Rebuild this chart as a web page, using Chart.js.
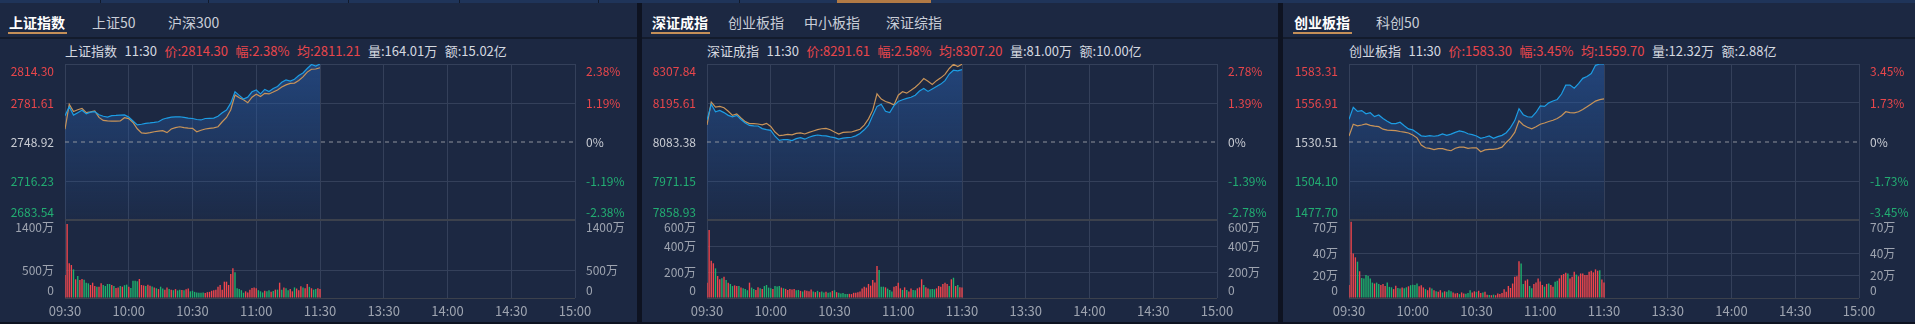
<!DOCTYPE html>
<html lang="zh-CN">
<head>
<meta charset="utf-8">
<title>分时走势</title>
<script src="https://cdn.jsdelivr.net/npm/chart.js@4.4.1/dist/chart.umd.min.js"></script>
<style>
  html, body { margin: 0; padding: 0; }
  body { width: 1915px; height: 324px; background: #0e1321; position: relative; overflow: hidden;
         font-family: "Noto Sans CJK SC", "Noto Sans", sans-serif; }
  #topbar { position: absolute; left: 0; top: 0; width: 1915px; height: 3px; background: #1f3459; }
  #topbar .cut { position: absolute; top: 0; width: 1px; height: 3px; background: #111a2c; }
  #topbar .on { position: absolute; top: 0; height: 3px; background: #b27a45; }
  .panel { position: absolute; top: 3px; height: 319px; background: #1c2842; }
  .tab { position: absolute; top: 9px; font-size: 14px; line-height: 20px; color: #c9ced8; white-space: nowrap; }
  .tab.active { color: #ffffff; font-weight: bold; }
  .tabline { position: absolute; top: 29px; height: 2px; background: #c48f58; }
  .tabsep { position: absolute; left: 0; right: 0; top: 34px; height: 2px; background: #131b2c; }
  .head { position: absolute; top: 38px; font-size: 13px; line-height: 20px; white-space: nowrap; color: #d5d9e0; }
  .head span { margin-right: 7.5px; }
  .head .r { color: #e8464b; }
  canvas { position: absolute; left: 0; }
</style>
</head>
<body>
<div id="topbar"></div>
<script>
// ---- data ----
const axisMinutes = [0, 30, 60, 90, 120, 150, 180, 210, 240];
const timeLabels = ['09:30', '10:00', '10:30', '11:00', '11:30', '13:30', '14:00', '14:30', '15:00'];

// price samples, minutes after 09:30
const priceMinutes = [0, 2, 4, 6, 8, 10, 12, 14, 16, 18, 20, 22, 24, 26, 28, 30, 32, 34, 36, 38,
  40, 42, 44, 46, 48, 50, 52, 54, 56, 58, 60, 62, 64, 66, 68, 70, 72, 74, 76, 78,
  80, 82, 84, 86, 88, 90, 92, 94, 96, 98, 100, 102, 104, 106, 108, 110, 112, 114, 116, 118, 120];
const volMinutes = [0, 1, 2, 3, 4, 5, 6, 7, 8, 9, 10, 11, 12, 13, 14, 15, 16, 17, 18, 19,
  20, 21, 22, 23, 24, 25, 26, 27, 28, 29, 30, 31, 32, 33, 34, 35, 36, 37, 38, 39,
  40, 41, 42, 43, 44, 45, 46, 47, 48, 49, 50, 51, 52, 53, 54, 55, 56, 57, 58, 59,
  60, 61, 62, 63, 64, 65, 66, 67, 68, 69, 70, 71, 72, 73, 74, 75, 76, 77, 78, 79,
  80, 81, 82, 83, 84, 85, 86, 87, 88, 89, 90, 91, 92, 93, 94, 95, 96, 97, 98, 99,
  100, 101, 102, 103, 104, 105, 106, 107, 108, 109, 110, 111, 112, 113, 114, 115, 116, 117, 118, 119, 120];

const tabNames = [['上证指数', '上证50', '沪深300'], ['深证成指', '创业板指', '中小板指', '深证综指'], ['创业板指', '科创50']];
const headNames = ['上证指数', '深证成指', '创业板指'];
const headTime = '11:30';
const headPrice = ['2814.30', '8291.61', '1583.30'];
const headChg = ['2.38%', '2.58%', '3.45%'];
const headAvg = ['2811.21', '8307.20', '1559.70'];
const headVol = ['164.01万', '81.00万', '12.32万'];
const headAmt = ['15.02亿', '10.00亿', '2.88亿'];

// 上证指数
const shPriceTicks = [2683.54, 2716.23, 2748.92, 2781.61, 2814.30];
const shPctTicks = ['-2.38%', '-1.19%', '0%', '1.19%', '2.38%'];
const shVolTicks = [0, 500, 1400];
const shPrice = [
  2771.0, 2778.5, 2771.5, 2773.5, 2775.5, 2772.5, 2774.0, 2774.3, 2771.8, 2770.5,
  2769.8, 2771.0, 2771.2, 2771.5, 2771.6, 2769.8, 2766.5, 2763.2, 2763.8, 2764.6,
  2764.9, 2765.3, 2765.9, 2768.0, 2769.0, 2769.8, 2770.0, 2770.1, 2769.6, 2769.0,
  2768.6, 2767.8, 2767.4, 2768.6, 2768.8, 2768.9, 2770.5, 2773.5, 2775.7, 2781.5,
  2791.0, 2788.0, 2785.0, 2786.5, 2791.0, 2792.5, 2789.3, 2793.0, 2791.3, 2793.8,
  2795.5, 2799.0, 2800.9, 2800.0, 2801.5, 2804.6, 2806.8, 2810.5, 2813.9, 2812.6,
  2814.3];
const shAvg = [
  2759.6, 2780.5, 2774.5, 2776.0, 2777.0, 2773.5, 2774.2, 2775.0, 2769.5, 2767.0,
  2766.6, 2766.5, 2766.4, 2766.5, 2769.3, 2768.5, 2765.3, 2760.0, 2756.5, 2756.2,
  2756.8, 2757.5, 2758.0, 2758.4, 2756.8, 2759.8, 2761.0, 2761.7, 2761.0, 2760.5,
  2760.4, 2757.5, 2758.8, 2759.8, 2760.4, 2760.8, 2761.7, 2765.9, 2769.5, 2776.0,
  2788.3, 2786.0, 2784.3, 2781.8, 2786.5, 2788.9, 2787.0, 2789.7, 2789.2, 2790.8,
  2792.5, 2795.0, 2796.8, 2798.1, 2798.3, 2800.5, 2803.5, 2807.5, 2809.9, 2810.1,
  2811.2];
const shVol = [
  413, 1328, 622, 592, 514, 335, 395, 323, 341, 329,
  275, 263, 233, 275, 215, 203, 203, 263, 233, 215,
  251, 251, 233, 215, 180, 190, 215, 203, 230, 240,
  200, 180, 311, 311, 300, 341, 233, 225, 215, 240,
  220, 205, 190, 175, 160, 203, 170, 150, 190, 160,
  150, 140, 160, 135, 150, 145, 140, 155, 170, 120,
  130, 110, 100, 95, 95, 100, 90, 105, 110, 130,
  140, 150, 200, 233, 150, 293, 293, 233, 430, 532,
  460, 173, 160, 140, 95, 120, 100, 150, 180, 190,
  173, 140, 120, 100, 130, 120, 140, 110, 125, 150,
  150, 275, 150, 190, 175, 140, 160, 120, 190, 170,
  140, 210, 190, 175, 251, 200, 175, 150, 160, 175, 160];
const shUp = [
  1, 1, 1, 1, 0, 1, 0, 1, 1, 0,
  0, 0, 1, 1, 1, 0, 1, 1, 0, 0,
  0, 0, 1, 0, 1, 1, 0, 1, 0, 0,
  1, 0, 0, 0, 0, 1, 1, 1, 0, 1,
  1, 0, 1, 0, 1, 0, 0, 1, 1, 0,
  1, 0, 1, 0, 0, 1, 0, 1, 1, 0,
  0, 0, 0, 0, 0, 0, 1, 1, 1, 1,
  1, 1, 1, 1, 1, 1, 1, 1, 1, 1,
  0, 0, 0, 0, 0, 1, 1, 1, 1, 1,
  1, 0, 0, 0, 1, 0, 0, 1, 0, 1,
  0, 1, 0, 1, 0, 0, 1, 1, 0, 1,
  1, 1, 0, 1, 1, 0, 1, 0, 0, 1, 1];

// 深证成指
const szPriceTicks = [7858.93, 7971.15, 8083.38, 8195.61, 8307.84];
const szPctTicks = ['-2.78%', '-1.39%', '0%', '1.39%', '2.78%'];
const szVolTicks = [0, 200, 400, 600];
const szPrice = [
  8146.7, 8192.0, 8170.0, 8174.0, 8168.0, 8160.0, 8156.0, 8160.0, 8148.0, 8138.0,
  8131.0, 8130.0, 8129.4, 8122.0, 8119.0, 8117.0, 8100.0, 8088.0, 8090.5, 8090.0,
  8087.5, 8093.0, 8096.0, 8091.5, 8097.0, 8101.0, 8103.5, 8102.0, 8100.8, 8098.0,
  8096.0, 8091.5, 8094.5, 8096.0, 8097.0, 8101.0, 8108.0, 8118.5, 8132.0, 8160.0,
  8186.0, 8192.0, 8172.0, 8168.0, 8188.0, 8200.0, 8205.0, 8209.0, 8212.0, 8218.0,
  8230.0, 8237.5, 8229.0, 8236.0, 8243.0, 8250.0, 8260.0, 8279.0, 8290.0, 8288.0,
  8291.6];
const szAvg = [
  8132.3, 8198.0, 8184.0, 8186.0, 8182.0, 8172.0, 8160.0, 8164.0, 8152.5, 8142.0,
  8136.5, 8136.0, 8135.2, 8133.0, 8137.0, 8128.0, 8112.0, 8101.5, 8103.0, 8105.5,
  8103.8, 8108.0, 8109.5, 8106.5, 8111.0, 8115.0, 8119.0, 8121.5, 8122.5, 8118.5,
  8112.0, 8106.4, 8111.0, 8111.8, 8112.1, 8116.0, 8120.0, 8132.0, 8150.0, 8175.0,
  8222.0, 8207.0, 8200.0, 8196.0, 8190.0, 8218.0, 8228.0, 8224.0, 8232.0, 8241.0,
  8252.0, 8266.0, 8258.0, 8249.0, 8260.0, 8268.0, 8278.0, 8295.0, 8307.0, 8300.5,
  8307.2];
const szVol = [
  118, 523, 287, 267, 228, 169, 144, 151, 164, 138,
  118, 108, 92, 97, 92, 92, 80, 75, 70, 60,
  118, 80, 70, 62, 82, 75, 70, 92, 100, 80,
  75, 70, 92, 88, 92, 80, 75, 70, 62, 70,
  65, 70, 60, 62, 55, 50, 60, 55, 52, 65,
  50, 45, 55, 45, 50, 42, 48, 40, 45, 55,
  60, 45, 40, 35, 38, 30, 30, 32, 30, 40,
  40, 45, 50, 74, 87, 80, 108, 95, 138, 120,
  246, 215, 87, 87, 82, 72, 62, 50, 87, 92,
  118, 74, 62, 82, 62, 50, 74, 62, 60, 74,
  82, 144, 100, 82, 74, 67, 70, 67, 74, 92,
  87, 108, 118, 108, 92, 144, 156, 92, 100, 82, 80];
const szUp = [
  1, 1, 1, 1, 0, 1, 1, 0, 1, 0,
  1, 0, 0, 1, 1, 0, 1, 0, 0, 0,
  1, 0, 0, 1, 1, 0, 1, 0, 0, 0,
  0, 1, 0, 0, 0, 1, 0, 1, 1, 1,
  1, 1, 0, 0, 1, 0, 1, 1, 1, 1,
  0, 1, 0, 1, 0, 0, 1, 0, 0, 1,
  0, 1, 0, 0, 0, 0, 0, 1, 1, 1,
  1, 1, 1, 1, 1, 1, 1, 1, 1, 1,
  1, 0, 0, 0, 1, 0, 0, 0, 1, 1,
  1, 1, 0, 1, 0, 1, 1, 0, 0, 1,
  1, 1, 0, 1, 1, 0, 0, 0, 1, 1,
  1, 1, 1, 1, 0, 1, 0, 1, 0, 1, 1];

// 创业板指
const cyPriceTicks = [1477.70, 1504.10, 1530.51, 1556.91, 1583.31];
const cyPctTicks = ['-3.45%', '-1.73%', '0%', '1.73%', '3.45%'];
const cyVolTicks = [0, 20, 40, 70];
const cyPrice = [
  1545.9, 1554.0, 1551.2, 1551.8, 1549.6, 1550.3, 1547.7, 1548.8, 1546.4, 1544.5,
  1543.0, 1542.9, 1543.9, 1541.5, 1539.4, 1538.7, 1536.8, 1534.7, 1534.3, 1534.8,
  1534.4, 1534.8, 1536.0, 1535.0, 1535.8, 1537.0, 1538.0, 1537.4, 1536.1, 1535.5,
  1534.6, 1533.0, 1533.7, 1534.6, 1533.0, 1534.1, 1535.0, 1536.8, 1540.3, 1545.0,
  1553.0, 1549.0, 1547.6, 1547.3, 1550.5, 1555.0, 1554.6, 1557.0, 1558.3, 1559.3,
  1563.0, 1569.0, 1569.0, 1566.9, 1570.0, 1573.6, 1574.8, 1576.8, 1582.4, 1583.3,
  1583.3];
const cyAvg = [
  1534.6, 1542.5, 1541.5, 1542.0, 1542.7, 1541.8, 1541.2, 1540.9, 1539.2, 1538.5,
  1538.4, 1538.2, 1537.6, 1537.2, 1536.6, 1535.3, 1533.3, 1528.5, 1526.6, 1526.2,
  1525.4, 1526.0, 1526.0, 1525.2, 1524.6, 1526.3, 1527.0, 1527.0, 1526.2, 1526.6,
  1526.5, 1523.9, 1525.2, 1525.5, 1525.5, 1526.0, 1527.0, 1530.2, 1532.9, 1537.0,
  1544.9, 1542.0, 1540.5, 1539.4, 1540.8, 1542.5, 1543.4, 1544.4, 1545.2, 1546.4,
  1548.3, 1551.0, 1550.4, 1550.2, 1551.0, 1552.5, 1554.3, 1556.3, 1558.2, 1559.2,
  1559.7];
const cyVol = [
  11.7, 68.5, 40, 36.5, 32.6, 24, 18, 17.6, 20.6, 19.7,
  17.6, 13.8, 13, 13.8, 12.6, 11.7, 12.6, 10.8, 13.8, 10,
  9.6, 8, 11, 9, 8.5, 9.5, 8.8, 9.6, 10.5, 11.5,
  12, 11.7, 13, 10.5, 11.5, 9.5, 8, 7, 9.5, 8.5,
  7, 6, 5.5, 7, 5, 6, 5.5, 7, 6, 5,
  4, 4.5, 3.5, 5, 4, 3.8, 4.5, 7, 5, 6,
  5.5, 6.5, 4.5, 5, 5.5, 3, 2.8, 2.5, 3, 2.5,
  4, 3.5, 4.5, 7.8, 5.7, 10.8, 9, 13, 19, 19.5,
  33, 31, 12.6, 15.6, 16.7, 10.8, 8.7, 12.6, 13.8, 17.6,
  14.7, 11.7, 10.2, 12.6, 13, 11.7, 10.2, 14.5, 15.5, 17.6,
  20.6, 21.5, 22.7, 22, 17.6, 19, 23.6, 21, 19.5, 22,
  22, 20.6, 20.6, 23.6, 24.5, 23, 25.7, 24.5, 25, 16.5, 14];
const cyUp = [
  1, 1, 1, 1, 0, 1, 0, 0, 0, 0,
  0, 0, 1, 0, 0, 1, 1, 1, 0, 0,
  0, 1, 1, 0, 0, 1, 0, 0, 1, 0,
  0, 0, 0, 1, 1, 1, 0, 1, 1, 0,
  1, 0, 1, 1, 0, 1, 0, 0, 0, 1,
  1, 1, 0, 1, 1, 0, 0, 0, 1, 1,
  0, 1, 1, 0, 1, 1, 0, 1, 0, 1,
  1, 1, 1, 1, 1, 1, 1, 1, 1, 1,
  1, 0, 0, 1, 1, 0, 0, 1, 1, 1,
  1, 1, 0, 1, 0, 1, 1, 0, 0, 1,
  1, 1, 1, 0, 1, 1, 1, 0, 1, 1,
  1, 1, 1, 1, 1, 1, 1, 1, 0, 1, 1];

// ---- look ----
Chart.defaults.font.family = '"Noto Sans CJK SC", "Noto Sans", sans-serif';
Chart.defaults.animation = false;

const RED = '#e8464b';
const GREEN = '#22ad72';
const BAR_RED = '#f0464c';
const BAR_GREEN = '#1fb06d';
const BLUE = '#1d9de4';
const ORANGE = '#c99459';
const GRID = '#34405a';
const SEP = '#3c414c';
const FLAT = '#c9ccd3';
const AXIS = '#9ea4b0';
const PLOT_W = 510;

const panels = [
  { left: 0, width: 637, plotLeft: 65, tabX: [9, 92, 168],
    price: shPrice, avg: shAvg, vol: shVol, up: shUp, priceTicks: shPriceTicks, pctTicks: shPctTicks, volTicks: shVolTicks },
  { left: 642, width: 636, plotLeft: 65, tabX: [10, 86, 162, 244],
    price: szPrice, avg: szAvg, vol: szVol, up: szUp, priceTicks: szPriceTicks, pctTicks: szPctTicks, volTicks: szVolTicks },
  { left: 1283, width: 632, plotLeft: 66, tabX: [11, 93],
    price: cyPrice, avg: cyAvg, vol: cyVol, up: cyUp, priceTicks: cyPriceTicks, pctTicks: cyPctTicks, volTicks: cyVolTicks }
];

// top strip
let topbar = document.getElementById('topbar');
[100, 208, 348, 459, 598, 739].forEach(x => {
  let d = document.createElement('div');
  d.className = 'cut';
  d.style.left = x + 'px';
  topbar.appendChild(d);
});
let on = document.createElement('div');
on.className = 'on';
on.style.left = '837px';
on.style.width = '94px';
topbar.appendChild(on);

function edgeLabel(text, index, count) {
  // push top label down and bottom label up, like the original
  if (index === count - 1) return ['', text];
  if (index === 0) return [text, ''];
  return text;
}

function timeAxis(showLabels, height) {
  return {
    type: 'linear',
    min: axisMinutes[0],
    max: axisMinutes[axisMinutes.length - 1],
    offset: false,
    afterBuildTicks: s => { s.ticks = axisMinutes.map(v => ({ value: v })); },
    afterFit: s => { s.height = height; s.paddingLeft = 0; s.paddingRight = 0; },
    ticks: { display: showLabels, autoSkip: false, maxRotation: 0, color: AXIS, font: { size: 13 }, padding: 5,
             callback: (v, i) => timeLabels[i] },
    grid: { color: GRID, drawTicks: false, offset: false },
    border: { display: false }
  };
}

function valueAxis(pos, ticks, width, label, color, grid) {
  return {
    position: pos,
    min: ticks[0],
    max: ticks[ticks.length - 1],
    afterBuildTicks: s => { s.ticks = ticks.map(v => ({ value: v })); },
    afterFit: s => { s.width = width; s.paddingTop = 0; s.paddingBottom = 0; },
    ticks: { autoSkip: false, padding: 11, font: { size: 12 }, color: color,
             callback: (v, i, t) => edgeLabel(label(v, i), i, t.length) },
    grid: grid || { drawTicks: false, drawOnChartArea: false },
    border: { display: false }
  };
}

function priceChart(canvas, p) {
  const base = p.priceTicks[2];
  const right = p.width - p.plotLeft - PLOT_W;
  const pts = arr => priceMinutes.map((m, i) => ({ x: m, y: arr[i] }));
  const tickColor = c => {
    const v = c.tick.value;
    if (Math.abs(v - base) < 0.001) return FLAT;
    return v > base ? RED : GREEN;
  };
  const area = c => {
    const a = c.chart.chartArea;
    if (!a) return 'rgba(38,88,160,0.3)';
    let g = c.chart.ctx.createLinearGradient(0, a.top, 0, a.bottom);
    g.addColorStop(0, 'rgba(40,92,168,0.55)');
    g.addColorStop(1, 'rgba(40,92,168,0.05)');
    return g;
  };
  const grid = {
    drawTicks: false,
    color: c => c.index === 2 ? 'rgba(0,0,0,0)' : (c.index === 0 ? SEP : GRID),
    lineWidth: c => c.index === 0 ? 2 : 1
  };
  return new Chart(canvas.getContext('2d'), {
    type: 'line',
    data: {
      datasets: [
        { data: pts(p.price), borderColor: BLUE, borderWidth: 1.2, pointRadius: 0, fill: 'start', backgroundColor: area },
        { data: pts(p.avg), borderColor: ORANGE, borderWidth: 1.2, pointRadius: 0, fill: false },
        { data: [{ x: axisMinutes[0], y: base }, { x: axisMinutes[axisMinutes.length - 1], y: base }],
          borderColor: '#8d919b', borderWidth: 1, borderDash: [4, 4], pointRadius: 0, fill: false }
      ]
    },
    options: {
      responsive: false,
      events: [],
      layout: { padding: { top: 8 } },
      plugins: { legend: { display: false }, tooltip: { enabled: false }, filler: { drawTime: 'beforeDatasetsDraw' } },
      scales: {
        x: timeAxis(false, 6),
        y: valueAxis('left', p.priceTicks, p.plotLeft, v => v.toFixed(2), tickColor, grid),
        yr: valueAxis('right', p.priceTicks, right, (v, i) => p.pctTicks[i], tickColor, null)
      }
    }
  });
}

function volumeChart(canvas, p) {
  const t = p.volTicks;
  const top = t.length - 1;
  const right = p.width - p.plotLeft - PLOT_W;
  const fmt = v => v === 0 ? '0' : v + '万';
  const grid = {
    drawTicks: false,
    color: c => (c.index === top || c.index === 0) ? SEP : GRID,
    lineWidth: c => c.index === top ? 2 : 1
  };
  return new Chart(canvas.getContext('2d'), {
    type: 'bar',
    data: {
      datasets: [{
        data: volMinutes.map((m, i) => ({ x: m, y: p.vol[i] })),
        backgroundColor: p.up.map(u => u ? BAR_RED : BAR_GREEN),
        barPercentage: 0.65,
        categoryPercentage: 1
      }]
    },
    options: {
      responsive: false,
      events: [],
      layout: { padding: { top: 8 } },
      plugins: { legend: { display: false }, tooltip: { enabled: false } },
      scales: {
        x: timeAxis(true, 24),
        y: valueAxis('left', t, p.plotLeft, fmt, AXIS, grid),
        yr: valueAxis('right', t, right, fmt, AXIS, null)
      }
    }
  });
}

panels.forEach((p, n) => {
  let box = document.createElement('div');
  box.className = 'panel';
  box.style.left = p.left + 'px';
  box.style.width = p.width + 'px';
  document.body.appendChild(box);

  tabNames[n].forEach((name, k) => {
    let el = document.createElement('div');
    el.className = k === 0 ? 'tab active' : 'tab';
    el.textContent = name;
    el.style.left = p.tabX[k] + 'px';
    box.appendChild(el);
    if (k === 0) {
      let line = document.createElement('div');
      line.className = 'tabline';
      line.style.left = (p.tabX[k] - 1) + 'px';
      line.style.width = (el.offsetWidth + 3) + 'px';
      box.appendChild(line);
    }
  });
  let sep = document.createElement('div');
  sep.className = 'tabsep';
  box.appendChild(sep);

  let head = document.createElement('div');
  head.className = 'head';
  head.style.left = p.plotLeft + 'px';
  head.innerHTML = '<span>' + headNames[n] + '</span><span>' + headTime + '</span>' +
    '<span class="r">价:' + headPrice[n] + '</span><span class="r">幅:' + headChg[n] + '</span>' +
    '<span class="r">均:' + headAvg[n] + '</span><span>量:' + headVol[n] + '</span><span>额:' + headAmt[n] + '</span>';
  box.appendChild(head);

  let c1 = document.createElement('canvas');
  c1.width = p.width;
  c1.height = 170;
  c1.style.top = '53px';
  box.appendChild(c1);

  let c2 = document.createElement('canvas');
  c2.width = p.width;
  c2.height = 110;
  c2.style.top = '209px';
  box.appendChild(c2);

  priceChart(c1, p);
  volumeChart(c2, p);
});
</script>
</body>
</html>
